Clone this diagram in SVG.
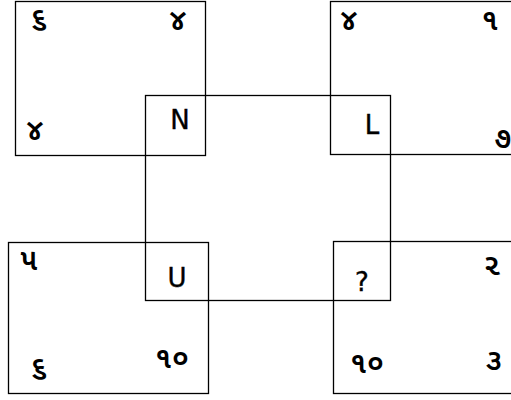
<svg xmlns="http://www.w3.org/2000/svg" width="511" height="400" viewBox="0 0 511 400">
<style>
.box{fill:none;stroke:#000;stroke-width:1.3}
.t{font-family:"DejaVu Sans","Noto Sans",sans-serif;font-size:26px;fill:#000;stroke:#000;stroke-width:0.4;text-anchor:middle}
.g{font-family:"Noto Sans Gujarati","Noto Sans","DejaVu Sans",sans-serif;font-size:30px;font-weight:600;fill:#000;text-anchor:middle}
</style>
<rect width="511" height="400" fill="#fff"/>
<g id="connectors">
<rect class="box" x="145.5" y="95.5" width="245" height="205"/>
</g>
<g id="node-topleft">
<rect class="box" x="15.5" y="1.5" width="190" height="154"/>
<text class="g" x="39" y="28">૬</text>
<text class="g" x="178" y="30">૪</text>
<text class="g" x="35" y="140">૪</text>
<text class="t" x="180" y="129">N</text>
</g>
<g id="node-topright">
<rect class="box" x="330.5" y="1.5" width="190" height="153"/>
<text class="g" x="349" y="30">૪</text>
<text class="g" x="490" y="30">૧</text>
<text class="t" x="372" y="134">L</text>
<text class="g" x="503" y="148">૭</text>
</g>
<g id="node-bottomleft">
<rect class="box" x="8.5" y="242.5" width="200" height="151"/>
<text class="g" x="29" y="270">૫</text>
<text class="t" x="177" y="287">U</text>
<text class="g" x="39" y="377">૬</text>
<text class="g" x="172" y="368">૧૦</text>
</g>
<g id="node-bottomright">
<rect class="box" x="333.5" y="241.5" width="190" height="152"/>
<text class="t" x="362" y="291">?</text>
<text class="g" x="492" y="275">૨</text>
<text class="g" x="367" y="373">૧૦</text>
<text class="g" x="494" y="370">૩</text>
</g>
</svg>
